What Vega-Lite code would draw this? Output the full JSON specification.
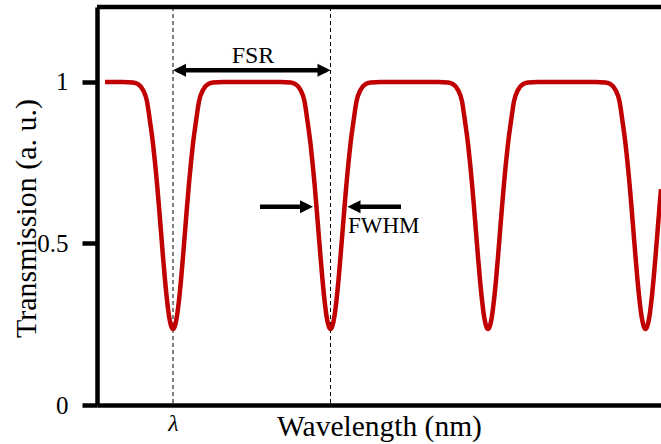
{
  "$schema": "https://vega.github.io/schema/vega-lite/v6.json",
  "width": 564,
  "height": 398,
  "autosize": {"type": "none"},
  "padding": {"left": 97, "top": 7, "right": 0, "bottom": 39},
  "background": "white",
  "config": {"view": {"stroke": null}, "font": "Liberation Serif"},
  "datasets": {
    "curve": [
      {"x": 8, "t": 1}, {"x": 26, "t": 1}, {"x": 36, "t": 0.998}, {"x": 41, "t": 0.993}, {"x": 46, "t": 0.975}, {"x": 50, "t": 0.94}, {"x": 53, "t": 0.878}, {"x": 56, "t": 0.809}, {"x": 58, "t": 0.751}, {"x": 60, "t": 0.686}, {"x": 62, "t": 0.613}, {"x": 64, "t": 0.536}, {"x": 66, "t": 0.459}, {"x": 68, "t": 0.387}, {"x": 70, "t": 0.325}, {"x": 72, "t": 0.276}, {"x": 74, "t": 0.246}, {"x": 76, "t": 0.235}, {"x": 78, "t": 0.246}, {"x": 80, "t": 0.276}, {"x": 82, "t": 0.325}, {"x": 84, "t": 0.387}, {"x": 86, "t": 0.459}, {"x": 88, "t": 0.536}, {"x": 90, "t": 0.613}, {"x": 92, "t": 0.686}, {"x": 94, "t": 0.751}, {"x": 96, "t": 0.809}, {"x": 99, "t": 0.878}, {"x": 102, "t": 0.94}, {"x": 106, "t": 0.975}, {"x": 111, "t": 0.993}, {"x": 116, "t": 0.998}, {"x": 126, "t": 1},
      {"x": 183.5, "t": 1}, {"x": 193.5, "t": 0.998}, {"x": 198.5, "t": 0.993}, {"x": 203.5, "t": 0.975}, {"x": 207.5, "t": 0.94}, {"x": 210.5, "t": 0.878}, {"x": 213.5, "t": 0.809}, {"x": 215.5, "t": 0.751}, {"x": 217.5, "t": 0.686}, {"x": 219.5, "t": 0.613}, {"x": 221.5, "t": 0.536}, {"x": 223.5, "t": 0.459}, {"x": 225.5, "t": 0.387}, {"x": 227.5, "t": 0.325}, {"x": 229.5, "t": 0.276}, {"x": 231.5, "t": 0.246}, {"x": 233.5, "t": 0.235}, {"x": 235.5, "t": 0.246}, {"x": 237.5, "t": 0.276}, {"x": 239.5, "t": 0.325}, {"x": 241.5, "t": 0.387}, {"x": 243.5, "t": 0.459}, {"x": 245.5, "t": 0.536}, {"x": 247.5, "t": 0.613}, {"x": 249.5, "t": 0.686}, {"x": 251.5, "t": 0.751}, {"x": 253.5, "t": 0.809}, {"x": 256.5, "t": 0.878}, {"x": 259.5, "t": 0.94}, {"x": 263.5, "t": 0.975}, {"x": 268.5, "t": 0.993}, {"x": 273.5, "t": 0.998}, {"x": 283.5, "t": 1},
      {"x": 341, "t": 1}, {"x": 351, "t": 0.998}, {"x": 356, "t": 0.993}, {"x": 361, "t": 0.975}, {"x": 365, "t": 0.94}, {"x": 368, "t": 0.878}, {"x": 371, "t": 0.809}, {"x": 373, "t": 0.751}, {"x": 375, "t": 0.686}, {"x": 377, "t": 0.613}, {"x": 379, "t": 0.536}, {"x": 381, "t": 0.459}, {"x": 383, "t": 0.387}, {"x": 385, "t": 0.325}, {"x": 387, "t": 0.276}, {"x": 389, "t": 0.246}, {"x": 391, "t": 0.235}, {"x": 393, "t": 0.246}, {"x": 395, "t": 0.276}, {"x": 397, "t": 0.325}, {"x": 399, "t": 0.387}, {"x": 401, "t": 0.459}, {"x": 403, "t": 0.536}, {"x": 405, "t": 0.613}, {"x": 407, "t": 0.686}, {"x": 409, "t": 0.751}, {"x": 411, "t": 0.809}, {"x": 414, "t": 0.878}, {"x": 417, "t": 0.94}, {"x": 421, "t": 0.975}, {"x": 426, "t": 0.993}, {"x": 431, "t": 0.998}, {"x": 441, "t": 1},
      {"x": 498.5, "t": 1}, {"x": 508.5, "t": 0.998}, {"x": 513.5, "t": 0.993}, {"x": 518.5, "t": 0.975}, {"x": 522.5, "t": 0.94}, {"x": 525.5, "t": 0.878}, {"x": 528.5, "t": 0.809}, {"x": 530.5, "t": 0.751}, {"x": 532.5, "t": 0.686}, {"x": 534.5, "t": 0.613}, {"x": 536.5, "t": 0.536}, {"x": 538.5, "t": 0.459}, {"x": 540.5, "t": 0.387}, {"x": 542.5, "t": 0.325}, {"x": 544.5, "t": 0.276}, {"x": 546.5, "t": 0.246}, {"x": 548.5, "t": 0.235}, {"x": 550.5, "t": 0.246}, {"x": 552.5, "t": 0.276}, {"x": 554.5, "t": 0.325}, {"x": 556.5, "t": 0.387}, {"x": 558.5, "t": 0.459}, {"x": 560.5, "t": 0.536}, {"x": 562.5, "t": 0.613}, {"x": 564, "t": 0.668}
    ],
    "dashes": [{"x": 76}, {"x": 233.5}],
    "shafts": [
      {"x": 80, "x2": 229.5, "y": 1.036},
      {"x": 163, "x2": 210, "y": 0.614},
      {"x": 256, "x2": 304, "y": 0.614}
    ],
    "heads": [
      {"x": 76, "y": 1.036, "dir": "left"},
      {"x": 233.5, "y": 1.036, "dir": "right"},
      {"x": 216, "y": 0.614, "dir": "right"},
      {"x": 250.5, "y": 0.614, "dir": "left"}
    ],
    "labels": [
      {"x": 156, "y": 1.059, "label": "FSR", "pos": "center"},
      {"x": 251, "y": 0.533, "label": "FWHM", "pos": "left"}
    ]
  },
  "layer": [
    {
      "data": {"name": "dashes"},
      "mark": {"type": "rule", "color": "black", "strokeWidth": 1, "strokeDash": [4, 3]},
      "encoding": {
        "x": {
          "field": "x", "type": "quantitative",
          "scale": {"domain": [0, 564], "nice": false, "zero": false},
          "axis": {
            "values": [76],
            "labelExpr": "'λ'",
            "labelFont": "Liberation Serif",
            "labelFontStyle": "italic",
            "labelFontSize": 24,
            "labelColor": "black",
            "labelPadding": 6,
            "ticks": false,
            "grid": false,
            "domainColor": "black",
            "domainWidth": 4.5,
            "title": "Wavelength (nm)",
            "titleFont": "Liberation Serif",
            "titleFontSize": 29.5,
            "titleFontWeight": "normal",
            "titleColor": "black",
            "titleBaseline": "alphabetic",
            "titleY": 30
          }
        }
      }
    },
    {
      "data": {"name": "curve"},
      "mark": {"type": "line", "color": "#C00000", "strokeWidth": 4.5, "interpolate": "monotone", "clip": true},
      "encoding": {
        "x": {"field": "x", "type": "quantitative"},
        "y": {
          "field": "t", "type": "quantitative",
          "scale": {"domain": [0, 1.232], "nice": false},
          "axis": {
            "values": [0, 0.5, 1],
            "format": "~g",
            "labelFont": "Liberation Serif",
            "labelFontSize": 25,
            "labelColor": "black",
            "labelPadding": 14,
            "tickSize": 15,
            "tickWidth": 4.5,
            "tickColor": "black",
            "grid": false,
            "domainColor": "black",
            "domainWidth": 4.5,
            "title": "Transmission (a. u.)",
            "titleFont": "Liberation Serif",
            "titleFontSize": 30,
            "titleFontWeight": "normal",
            "titleColor": "black",
            "titleAngle": 270,
            "titleAlign": "center",
            "titleBaseline": "alphabetic",
            "titleX": -62,
            "titleY": 211
          }
        }
      }
    },
    {
      "data": {"name": "shafts"},
      "mark": {"type": "rule", "color": "black", "strokeWidth": 4.5},
      "encoding": {
        "x": {"field": "x", "type": "quantitative"},
        "x2": {"field": "x2"},
        "y": {"field": "y", "type": "quantitative"}
      }
    },
    {
      "data": {"name": "heads"},
      "mark": {"type": "point", "filled": true, "color": "black", "opacity": 1, "size": 169},
      "encoding": {
        "x": {"field": "x", "type": "quantitative"},
        "y": {"field": "y", "type": "quantitative"},
        "shape": {
          "field": "dir", "type": "nominal",
          "scale": {"domain": ["left", "right"], "range": ["M0,0L2,-1L2,1Z", "M0,0L-2,-1L-2,1Z"]},
          "legend": null
        }
      }
    },
    {
      "data": {"name": "labels"},
      "transform": [{"filter": "datum.pos == 'center'"}],
      "mark": {"type": "text", "align": "center", "baseline": "alphabetic", "fontSize": 24, "font": "Liberation Serif", "color": "black"},
      "encoding": {
        "x": {"field": "x", "type": "quantitative"},
        "y": {"field": "y", "type": "quantitative"},
        "text": {"field": "label"}
      }
    },
    {
      "data": {"name": "labels"},
      "transform": [{"filter": "datum.pos == 'left'"}],
      "mark": {"type": "text", "align": "left", "baseline": "alphabetic", "fontSize": 23, "font": "Liberation Serif", "color": "black"},
      "encoding": {
        "x": {"field": "x", "type": "quantitative"},
        "y": {"field": "y", "type": "quantitative"},
        "text": {"field": "label"}
      }
    },
    {
      "data": {"values": [{"top": 1.232}]},
      "mark": {"type": "rule", "color": "black", "strokeWidth": 4.5},
      "encoding": {
        "y": {"field": "top", "type": "quantitative"}
      }
    }
  ]
}
